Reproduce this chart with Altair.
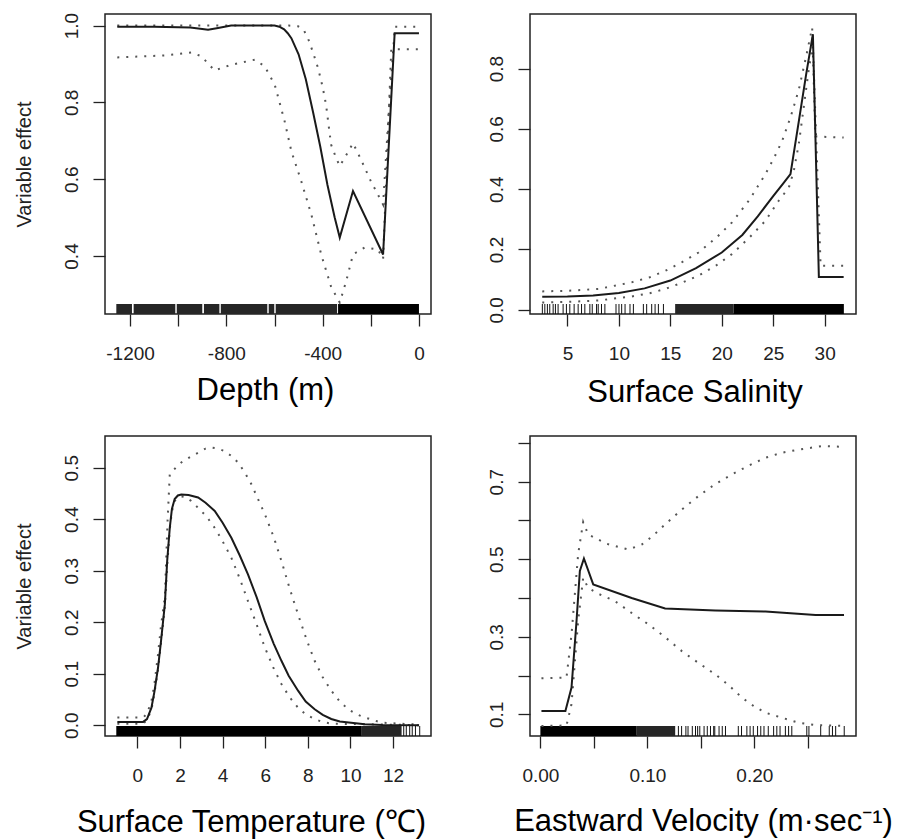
import altair as alt
import pandas as pd

# ---------------- data ----------------
# Panel 1: Depth (m)
depth_fit_x = [-1253, -1100, -950, -900, -876, -840, -780, -700, -620, -600, -580, -560, -545, -530, -500, -470, -440, -410, -380, -350, -329, -274, -149, -101, 0]
depth_fit_y = [0.997, 0.997, 0.995, 0.991, 0.989, 0.993, 1.0, 1.0, 1.0, 1.0, 0.997, 0.99, 0.98, 0.967, 0.925, 0.86, 0.775, 0.685, 0.585, 0.5, 0.448, 0.569, 0.404, 0.98, 0.98]
depth_up_x = [-1253, -900, -600, -540, -502, -480, -461, -440, -419, -400, -386, -365, -344, -329, -300, -274, -240, -200, -149, -125, -100, 0]
depth_up_y = [1.0, 1.0, 1.0, 1.0, 0.998, 0.99, 0.967, 0.93, 0.889, 0.84, 0.794, 0.69, 0.655, 0.634, 0.665, 0.694, 0.65, 0.595, 0.534, 0.78, 0.997, 0.997]
depth_lo_x = [-1253, -1056, -945, -904, -849, -779, -682, -641, -599, -558, -530, -489, -447, -406, -364, -329, -302, -274, -226, -170, -149, -115, 0]
depth_lo_y = [0.917, 0.922, 0.93, 0.92, 0.883, 0.898, 0.911, 0.894, 0.846, 0.751, 0.673, 0.595, 0.508, 0.404, 0.318, 0.279, 0.335, 0.404, 0.422, 0.417, 0.392, 0.938, 0.938]
depth_rug_light_start = [-1257, -1185, -1006, -893, -823, -624, -595]
depth_rug_light_end = [-1192, -1012, -900, -829, -630, -601, -340]
depth_rug_solid_start = [-336]
depth_rug_solid_end = [0]
depth_rug_ticks = []

# Panel 2: Surface Salinity
sal_fit_x = [2.55, 5.0, 7.5, 10.0, 12.5, 15.0, 17.5, 20.0, 22.0, 23.5, 25.0, 26.0, 26.68, 27.49, 28.2, 28.86, 29.44, 31.85]
sal_fit_y = [0.043, 0.044, 0.047, 0.056, 0.071, 0.097, 0.138, 0.19, 0.248, 0.31, 0.377, 0.42, 0.45, 0.625, 0.78, 0.914, 0.109, 0.109]
sal_up_x = [2.55, 5.0, 8.0, 11.24, 13.0, 14.5, 16.0, 17.74, 19.5, 21.0, 22.7, 24.24, 25.1, 25.87, 26.7, 27.49, 28.2, 28.79, 29.1, 31.85]
sal_up_y = [0.061, 0.063, 0.069, 0.091, 0.108, 0.129, 0.155, 0.19, 0.24, 0.29, 0.365, 0.45, 0.505, 0.56, 0.64, 0.73, 0.84, 0.936, 0.575, 0.571]
sal_lo_x = [2.55, 5.0, 8.0, 11.24, 13.0, 14.5, 16.0, 17.74, 19.5, 21.0, 22.7, 24.24, 25.5, 26.52, 27.0, 27.49, 28.0, 28.47, 28.86, 29.61, 31.85]
sal_lo_y = [0.024, 0.026, 0.031, 0.044, 0.055, 0.069, 0.088, 0.113, 0.148, 0.185, 0.24, 0.295, 0.36, 0.405, 0.46, 0.55, 0.68, 0.80, 0.88, 0.146, 0.146]
sal_rug_light_start = [15.47]
sal_rug_light_end = [21.15]
sal_rug_solid_start = [21.15]
sal_rug_solid_end = [31.87]
sal_rug_ticks = [2.56, 2.80, 3.05, 3.28, 3.61, 3.83, 4.09, 4.58, 4.90, 5.23, 5.65, 6.04, 6.37, 6.69, 7.18, 7.41,
                 7.83, 7.99, 8.31, 8.64, 9.72, 10.01, 10.27, 10.60, 11.08, 11.41, 12.38, 12.70, 13.19, 13.52, 13.84, 14.33]

# Panel 3: Surface Temperature
temp_fit_x = [-0.94, 0.27, 0.45, 0.66, 0.8, 0.97, 1.1, 1.29, 1.4, 1.52, 1.62, 1.75, 1.9, 2.06, 2.4, 2.85, 3.2, 3.63, 4.0, 4.41, 4.8, 5.19, 5.6, 5.98, 6.4, 6.76, 7.1, 7.54, 7.9, 8.32, 8.7, 9.10, 9.5, 10.67, 11.5, 13.22]
temp_fit_y = [0.0064, 0.0064, 0.012, 0.034, 0.065, 0.112, 0.16, 0.235, 0.32, 0.383, 0.42, 0.439, 0.446, 0.448, 0.447, 0.442, 0.432, 0.416, 0.393, 0.364, 0.33, 0.293, 0.248, 0.202, 0.158, 0.125, 0.096, 0.067, 0.046, 0.031, 0.02, 0.012, 0.007, 0.002, 0.0005, 0.0]
temp_up_x = [-0.94, 0.27, 0.45, 0.66, 0.8, 0.97, 1.1, 1.29, 1.42, 1.52, 1.8, 2.06, 2.45, 2.85, 3.2, 3.47, 3.8, 4.10, 4.4, 4.73, 5.05, 5.35, 5.65, 5.98, 6.4, 6.76, 7.15, 7.54, 7.95, 8.32, 8.7, 9.10, 9.5, 9.89, 10.3, 10.67, 11.45, 13.22]
temp_up_y = [0.015, 0.015, 0.022, 0.047, 0.08, 0.138, 0.19, 0.25, 0.40, 0.487, 0.50, 0.51, 0.52, 0.529, 0.537, 0.539, 0.537, 0.532, 0.523, 0.51, 0.49, 0.468, 0.44, 0.41, 0.365, 0.319, 0.265, 0.215, 0.165, 0.125, 0.093, 0.067, 0.046, 0.031, 0.021, 0.015, 0.005, 0.001]
temp_lo_x = [-0.94, 0.27, 0.45, 0.66, 0.8, 0.97, 1.1, 1.29, 1.4, 1.52, 1.62, 1.75, 1.95, 2.2, 2.5, 2.85, 3.25, 3.63, 4.0, 4.41, 4.8, 5.19, 5.6, 5.98, 6.4, 6.76, 7.15, 7.54, 7.9, 8.32, 8.7, 9.10, 13.22]
temp_lo_y = [0.003, 0.003, 0.01, 0.03, 0.062, 0.108, 0.155, 0.232, 0.31, 0.38, 0.415, 0.435, 0.443, 0.444, 0.436, 0.422, 0.405, 0.383, 0.357, 0.325, 0.285, 0.241, 0.195, 0.151, 0.11, 0.080, 0.054, 0.034, 0.021, 0.012, 0.006, 0.003, 0.0]
temp_rug_light_start = [10.5]
temp_rug_light_end = [12.4]
temp_rug_solid_start = [-0.99]
temp_rug_solid_end = [10.5]
temp_rug_ticks = [12.5, 12.62, 12.78, 12.9, 13.05, 13.25]

# Panel 4: Eastward Velocity
vel_fit_x = [0.001, 0.0234, 0.0291, 0.0338, 0.0369, 0.0407, 0.0494, 0.0853, 0.1166, 0.1635, 0.2104, 0.2572, 0.2838]
vel_fit_y = [0.1085, 0.1085, 0.169, 0.341, 0.47, 0.502, 0.435, 0.40, 0.373, 0.368, 0.365, 0.356, 0.356]
vel_up_x = [0.001, 0.0244, 0.0291, 0.0353, 0.040, 0.0447, 0.0541, 0.062, 0.0697, 0.0822, 0.0947, 0.105, 0.1166, 0.132, 0.1478, 0.163, 0.179, 0.195, 0.2104, 0.226, 0.2416, 0.2634, 0.2838]
vel_up_y = [0.193, 0.195, 0.306, 0.513, 0.596, 0.564, 0.551, 0.54, 0.534, 0.525, 0.538, 0.56, 0.59, 0.628, 0.663, 0.693, 0.719, 0.742, 0.762, 0.775, 0.783, 0.792, 0.79]
vel_lo_x = [0.001, 0.0244, 0.0291, 0.0353, 0.040, 0.0447, 0.055, 0.0697, 0.085, 0.101, 0.117, 0.1322, 0.148, 0.1635, 0.176, 0.1884, 0.2, 0.2104, 0.2259, 0.2416, 0.2572, 0.2838]
vel_lo_y = [0.070, 0.071, 0.126, 0.341, 0.452, 0.426, 0.41, 0.392, 0.362, 0.332, 0.298, 0.263, 0.232, 0.203, 0.175, 0.143, 0.12, 0.104, 0.091, 0.078, 0.072, 0.070]
vel_rug_light_start = [0.09]
vel_rug_light_end = [0.126]
vel_rug_solid_start = [0.0]
vel_rug_solid_end = [0.09]
vel_rug_ticks = [0.129, 0.132, 0.136, 0.138, 0.142, 0.145, 0.147, 0.149, 0.153, 0.156, 0.159, 0.162, 0.163,
                 0.167, 0.170, 0.173, 0.185, 0.188, 0.193, 0.196, 0.199, 0.203, 0.206, 0.209, 0.213, 0.218,
                 0.221, 0.224, 0.229, 0.232, 0.235, 0.249, 0.251, 0.262, 0.270, 0.273, 0.276, 0.284]

# axis tick values
depth_xticks = [-1200, -1000, -800, -600, -400, -200, 0]
depth_yticks = [0.4, 0.6, 0.8, 1.0]
sal_xticks = [5, 10, 15, 20, 25, 30]
sal_yticks = [0.0, 0.2, 0.4, 0.6, 0.8]
temp_xticks = [0, 2, 4, 6, 8, 10, 12]
temp_yticks = [0.0, 0.1, 0.2, 0.3, 0.4, 0.5]
vel_xticks = [0.0, 0.05, 0.10, 0.15, 0.20, 0.25]
vel_yticks = [0.1, 0.2, 0.3, 0.4, 0.5, 0.6, 0.7, 0.8]

W, H = 326, 300
FONT = "Liberation Sans"
RUG_TOP = H - 10


def panel(fit, up, lo, light, solid, ticks, xdom, ydom, xvals, yvals, xexpr, yexpr,
          xtitle, xtitle_x, xtitle_y, ytitle):
    xaxis = alt.Axis(values=xvals, labelExpr=xexpr, title=xtitle, grid=False, domain=False,
                     tickSize=12, tickWidth=1.3, tickColor="#222", labelFontSize=19, labelColor="#222",
                     labelPadding=18.5, labelFlush=False, labelOverlap=False, labelFont=FONT,
                     titleFont=FONT, titleFontSize=31, titleFontWeight="normal", titleColor="#000",
                     titleAlign="center", titleBaseline="alphabetic", titleX=xtitle_x, titleY=xtitle_y)
    yaxis_kw = dict(values=yvals, labelExpr=yexpr, grid=False, domain=False,
                    tickSize=12, tickWidth=1.3, tickColor="#222", labelFontSize=19, labelColor="#222",
                    labelAngle=270, labelAlign="center", labelBaseline="alphabetic", labelPadding=16,
                    labelFlush=False, labelOverlap=False, labelFont=FONT)
    if ytitle:
        yaxis = alt.Axis(title=ytitle, titleFont=FONT, titleFontSize=20, titleFontWeight="normal",
                         titleColor="#222", titleAngle=270, titleAlign="center",
                         titleBaseline="alphabetic", titleX=-75, titleY=150, **yaxis_kw)
    else:
        yaxis = alt.Axis(title=None, **yaxis_kw)

    X = alt.X("x:Q", scale=alt.Scale(domain=xdom, nice=False, zero=False), axis=xaxis)
    Y = alt.Y("y:Q", scale=alt.Scale(domain=ydom, nice=False, zero=False), axis=yaxis)

    layers = []
    if light[0]:
        layers.append(alt.Chart(pd.DataFrame({"x": light[0], "x2": light[1]})).mark_rect(color="#262626")
                      .encode(x=X, x2="x2:Q", y=alt.value(RUG_TOP), y2=alt.value(H)))
    if solid[0]:
        layers.append(alt.Chart(pd.DataFrame({"x": solid[0], "x2": solid[1]})).mark_rect(color="#000")
                      .encode(x=X, x2="x2:Q", y=alt.value(RUG_TOP), y2=alt.value(H)))
    if ticks:
        layers.append(alt.Chart(pd.DataFrame({"x": ticks})).mark_rule(color="#111", strokeWidth=1)
                      .encode(x=X, y=alt.value(RUG_TOP), y2=alt.value(H)))
    for (xs, ys) in (lo, up):
        layers.append(alt.Chart(pd.DataFrame({"x": xs, "y": ys}))
                      .mark_line(color="#555", strokeWidth=2, strokeDash=[2, 7])
                      .encode(x=X, y=Y))
    layers.append(alt.Chart(pd.DataFrame({"x": fit[0], "y": fit[1]}))
                  .mark_line(color="#1a1a1a", strokeWidth=2)
                  .encode(x=X, y=Y))
    return alt.layer(*layers).properties(width=W, height=H)


one_dec = "format(datum.value, '.1f')"
p1 = panel((depth_fit_x, depth_fit_y), (depth_up_x, depth_up_y), (depth_lo_x, depth_lo_y),
           (depth_rug_light_start, depth_rug_light_end), (depth_rug_solid_start, depth_rug_solid_end), depth_rug_ticks,
           [-1304, 50], [0.249, 1.030], depth_xticks, depth_yticks,
           "datum.value % 400 == 0 ? (datum.value < 0 ? '-' + format(-datum.value, 'd') : format(datum.value, 'd')) : ''",
           one_dec, "Depth (m)", 160, 85, "Variable effect")
p2 = panel((sal_fit_x, sal_fit_y), (sal_up_x, sal_up_y), (sal_lo_x, sal_lo_y),
           (sal_rug_light_start, sal_rug_light_end), (sal_rug_solid_start, sal_rug_solid_end), sal_rug_ticks,
           [1.36, 33.05], [-0.014, 0.981], sal_xticks, sal_yticks,
           "format(datum.value, 'd')", one_dec, "Surface Salinity", 164.5, 87, None)
p3 = panel((temp_fit_x, temp_fit_y), (temp_up_x, temp_up_y), (temp_lo_x, temp_lo_y),
           (temp_rug_light_start, temp_rug_light_end), (temp_rug_solid_start, temp_rug_solid_end), temp_rug_ticks,
           [-1.52, 13.78], [-0.021, 0.5615], temp_xticks, temp_yticks,
           "format(datum.value, 'd')", one_dec, "Surface Temperature (℃)", 146, 95, "Variable effect")
p4 = panel((vel_fit_x, vel_fit_y), (vel_up_x, vel_up_y), (vel_lo_x, vel_lo_y),
           (vel_rug_light_start, vel_rug_light_end), (vel_rug_solid_start, vel_rug_solid_end), vel_rug_ticks,
           [-0.0097, 0.295], [0.044, 0.818], vel_xticks, vel_yticks,
           "round(datum.value * 100) % 10 == 0 ? format(datum.value, '.2f') : ''",
           "round(datum.value * 10) % 2 == 1 ? format(datum.value, '.1f') : ''",
           "Eastward Velocity (m·sec⁻¹)", 173, 94, None)

chart = alt.concat(p1, p2, p3, p4, columns=2, spacing={"row": 122, "column": 99}, bounds="flush").properties(
    padding={"left": 5, "top": 3, "right": 2, "bottom": 5}
).configure(font=FONT).configure_view(stroke="#222", strokeWidth=1.5)

chart.save("out.html", embed_options={"renderer": "svg", "actions": False})
